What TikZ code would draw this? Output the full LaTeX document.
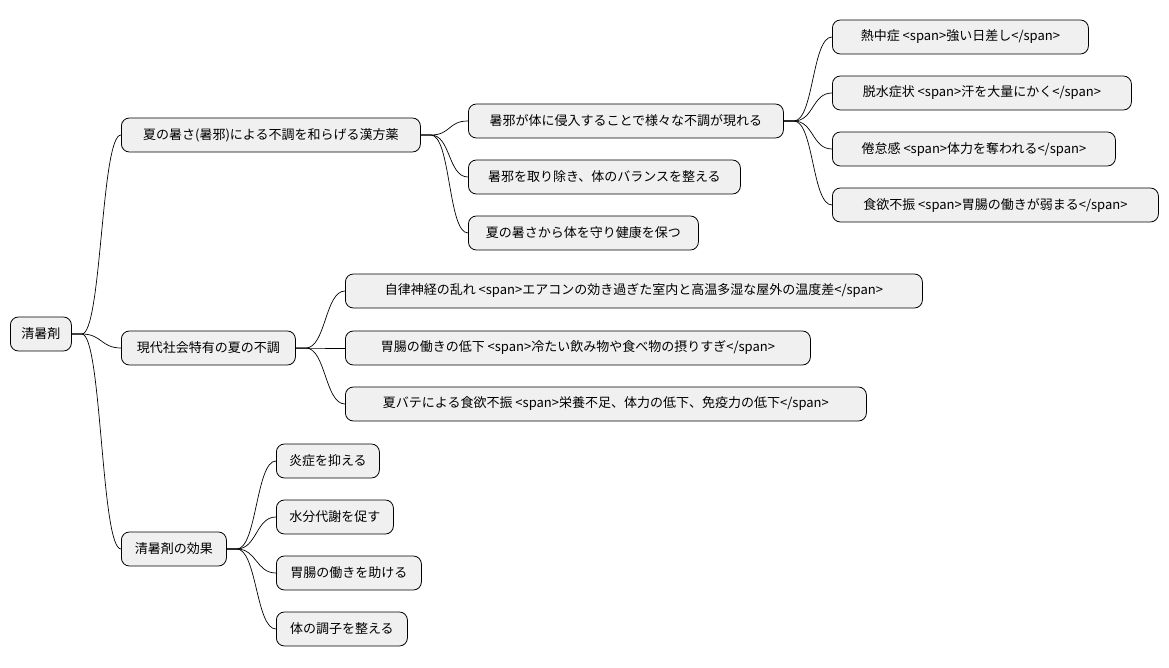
\documentclass[tikz,border=0pt]{standalone}
\usepackage{fontspec}
\setmainfont{Noto Sans CJK JP}
\begin{document}
\begin{tikzpicture}[x=1pt,y=-1pt,
  box/.style={draw=black,fill=black!6,rounded corners=8pt,minimum height=34pt,inner xsep=10pt,anchor=west,font=\fontsize{13}{15}\selectfont,line width=0.8pt},
  edge/.style={draw=black,line width=0.7pt}]
\useasboundingbox (0,0) rectangle (1169,668);
\node[box,minimum width=61pt] (r) at (10,334) {清暑剤};
\node[box,minimum width=299pt] (a) at (121,135) {夏の暑さ(暑邪)による不調を和らげる漢方薬};
\node[box,minimum width=315pt] (a1) at (468,121) {暑邪が体に侵入することで様々な不調が現れる};
\node[box,minimum width=256pt] (a11) at (832,37) {熱中症 <span>強い日差し</span>};
\node[box,minimum width=299pt] (a12) at (832,93) {脱水症状 <span>汗を大量にかく</span>};
\node[box,minimum width=283pt] (a13) at (832,149) {倦怠感 <span>体力を奪われる</span>};
\node[box,minimum width=326pt] (a14) at (832,205) {食欲不振 <span>胃腸の働きが弱まる</span>};
\node[box,minimum width=272pt] (a2) at (468,177) {暑邪を取り除き、体のバランスを整える};
\node[box,minimum width=230pt] (a3) at (468,233) {夏の暑さから体を守り健康を保つ};
\node[box,minimum width=174pt] (b) at (121,348) {現代社会特有の夏の不調};
\node[box,minimum width=577pt] (b1) at (345,291) {自律神経の乱れ <span>エアコンの効き過ぎた室内と高温多湿な屋外の温度差</span>};
\node[box,minimum width=465pt] (b2) at (345,348) {胃腸の働きの低下 <span>冷たい飲み物や食べ物の摂りすぎ</span>};
\node[box,minimum width=521pt] (b3) at (345,404) {夏バテによる食欲不振 <span>栄養不足、体力の低下、免疫力の低下</span>};
\node[box,minimum width=105pt] (c) at (121,549) {清暑剤の効果};
\node[box,minimum width=103pt] (c1) at (276,461) {炎症を抑える};
\node[box,minimum width=117pt] (c2) at (276,517) {水分代謝を促す};
\node[box,minimum width=145pt] (c3) at (276,573) {胃腸の働きを助ける};
\node[box,minimum width=131pt] (c4) at (276,629) {体の調子を整える};
\foreach \p/\c in {r/a,r/b,r/c,a/a1,a/a2,a/a3,a1/a11,a1/a12,a1/a13,a1/a14,b/b1,b/b2,b/b3,c/c1,c/c2,c/c3,c/c4}
  \draw[edge] (\p.east) -- ++(10,0) .. controls +(20,0) and +(-20,0) .. (\c.west);
\end{tikzpicture}
\end{document}
